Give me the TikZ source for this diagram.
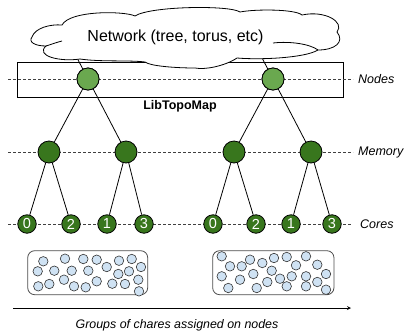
\documentclass[tikz,border=0pt]{standalone}
\usepackage{fontspec}
\setmainfont{Liberation Sans}
\usetikzlibrary{shapes,arrows,positioning,calc}

\definecolor{hostgreen}{HTML}{6AA84F}
\definecolor{memgreen}{HTML}{38761D}
\definecolor{charefill}{HTML}{CFE2F3}

\begin{document}
\begin{tikzpicture}[
    x=1pt, y=-1pt,
    host/.style={circle, draw, line width=0.8pt, fill=hostgreen, minimum size=22pt, inner sep=0pt},
    mem/.style={circle, draw, line width=0.8pt, fill=memgreen, minimum size=22pt, inner sep=0pt},
    core/.style={circle, draw, line width=0.8pt, fill=memgreen, minimum size=18.5pt, inner sep=0pt, text=white, font=\fontsize{14.5}{16}\selectfont},
    chare/.style={circle, draw=black!80, line width=0.6pt, fill=charefill, minimum size=9.5pt, inner sep=0pt},
    group/.style={rectangle, draw=black!70, line width=0.8pt, rounded corners=7pt, minimum width=120pt, minimum height=44pt},
    level/.style={dash pattern=on 3pt off 2pt, line width=0.7pt, black!75},
    tag/.style={font=\fontsize{12.5}{15}\selectfont\itshape, anchor=west, inner sep=0pt},
    edge/.style={line width=0.8pt},
    arrow/.style={->, >=stealth, line width=0.8pt}
]
\useasboundingbox (0,0) rectangle (406,330);

% LibTopoMap box
\node[draw, line width=1pt, minimum width=326pt, minimum height=35pt] (topo) at (180,79.5) {};
\node[below=1pt of topo, font=\fontsize{12.5}{15}\selectfont\bfseries, inner sep=2pt] (topolabel) {LibTopoMap};

% levels
\coordinate (nodesL) at (8,79);
\coordinate (memL) at (8,152);
\coordinate (coresL) at (8,224);
\node[tag] (nodesT) at (358,79) {Nodes};
\node[tag] (memT) at (358,152) {Memory};
\node[tag] (coresT) at (360,224) {Cores};
\draw[level] (nodesL) -- ($(nodesT.west)+(-5,0)$);
\draw[level] (memL) -- ($(memT.west)+(-5,0)$);
\draw[level] (coresL) -- ($(coresT.west)+(-8,0)$);

% tree
\node[host] (h1) at (88,79) {};
\node[host] (h2) at (273,79) {};
\node[mem] (m1) at (49,152) {};
\node[mem] (m2) at (126,152) {};
\node[mem] (m3) at (234,152) {};
\node[mem] (m4) at (311,152) {};
\foreach \x/\n [count=\i] in {27/0, 71/2, 107/1, 144/3, 213/0, 256/2, 291/1, 332/3}
    \node[core] (k\i) at (\x,224) {\n};

\coordinate (up1) at ($(m2)!1.4!(h1)$);
\coordinate (up2) at ($(m4)!1.4!(h2)$);
\draw[edge] (up1) -- (h1);
\draw[edge] (up2) -- (h2);
\draw[edge] (h1) -- (m1);
\draw[edge] (h1) -- (m2);
\draw[edge] (h2) -- (m3);
\draw[edge] (h2) -- (m4);
\draw[edge] (m1) -- (k1);
\draw[edge] (m1) -- (k2);
\draw[edge] (m2) -- (k3);
\draw[edge] (m2) -- (k4);
\draw[edge] (m3) -- (k5);
\draw[edge] (m3) -- (k6);
\draw[edge] (m4) -- (k7);
\draw[edge] (m4) -- (k8);

% network cloud
\draw[line width=0.8pt, fill=white] (32,37) .. controls (35,28) and (50,24) .. (62,25)
    .. controls (70,10) and (125,11) .. (135,16)
    .. controls (150,6) and (230,5) .. (240,12)
    .. controls (255,9) and (295,9) .. (302,15)
    .. controls (325,10) and (345,22) .. (337,32)
    .. controls (345,42) and (335,50) .. (318,50)
    .. controls (305,58) and (260,60) .. (237,58)
    .. controls (225,66) and (205,70) .. (195,68)
    .. controls (175,68) and (150,66) .. (145,62)
    .. controls (130,60) and (100,62) .. (80,59)
    .. controls (60,62) and (35,56) .. (46,46)
    .. controls (35,46) and (28,42) .. (32,37) -- cycle;
\draw[line width=0.8pt] (46,46) .. controls (52,44) and (58,42) .. (62,41);
\draw[line width=0.8pt] (273,43) .. controls (290,41) and (310,44) .. (318,50);
\node[font=\fontsize{16}{19}\selectfont] (nettext) at (175.5,37) {Network (tree, torus, etc)};

% redraw circles over cloud
\node[host] at (h1) {};
\node[host] at (h2) {};

% chare groups
\node[group] (g1) at (87.7,272.7) {};
\node[group, minimum width=121.3pt] (g2) at (273.3,272.7) {};
\foreach \x/\y [count=\i] in {43.3/261.3, 65/258.7, 83.3/259, 96.7/259.7, 119/260.7, 131.7/259,
    37.7/271.3, 54.3/270.7, 71.7/270.7, 88.3/270.7, 106.7/267, 118.3/274, 129/271.3, 141/267,
    64/279.7, 138.3/279.7, 38.3/286.3, 49.3/284, 74/286.3, 85.7/287.3, 96.7/281.3, 112.3/283.7,
    125/284, 139/291.3}
    \node[chare] (a\i) at (\x,\y) {};
\foreach \x/\y [count=\i] in {221.7/256.3, 230/266.3, 241.7/266.3, 250/259.7, 262.3/263, 274/258,
    286.7/257, 296/265.3, 306/256.3, 317.3/264.7, 221.7/276.3, 240/279.7, 253.3/274, 271.7/270.7,
    280/278.7, 291.7/276.3, 306/276.3, 326/274, 228.3/288, 256.7/288, 267.3/282, 286.7/286.3,
    306/286.3, 317.3/282, 326/289.7}
    \node[chare] (b\i) at (\x,\y) {};

% assignment arrow
\coordinate (flowL) at (13,308);
\coordinate (flowR) at (351,308);
\draw[arrow] (flowL) -- (flowR);
\node[font=\fontsize{12.4}{15}\selectfont\itshape] (flowtext) at (177,325) {Groups of chares assigned on nodes};
\end{tikzpicture}
\end{document}
